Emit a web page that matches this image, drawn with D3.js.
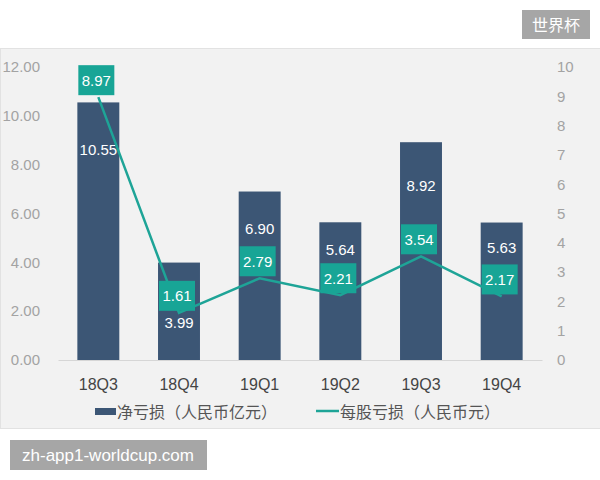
<!DOCTYPE html>
<html>
<head>
<meta charset="utf-8">
<script src="https://cdn.jsdelivr.net/npm/d3@7"></script>
<style>
  html, body { margin: 0; padding: 0; background: #fff; }
  svg text { font-family: "Liberation Sans", Arial, "Noto Sans CJK SC", sans-serif; }
</style>
</head>
<body>
<div class="graph"></div>
<script>
// data
var quarters = ['18Q3', '18Q4', '19Q1', '19Q2', '19Q3', '19Q4'];
var netLoss = [10.55, 3.99, 6.90, 5.64, 8.92, 5.63];      // 净亏损（人民币亿元）
var lossPerShare = [8.97, 1.61, 2.79, 2.21, 3.54, 2.17];  // 每股亏损（人民币元）
var leftTicks = [0, 2, 4, 6, 8, 10, 12];
var rightTicks = [0, 1, 2, 3, 4, 5, 6, 7, 8, 9, 10];

// how far below the bar top each bar label sits (px)
var barLabelDy = [47, 60, 37, 27, 44, 25];

var width = 600,
    height = 480

var barColor = '#3c5675',
    lineColor = '#1ea497',
    boxColor = '#18a596'

var svg = d3.select('.graph')
  .append('svg')
  .attr('width', width)
  .attr('height', height)

// panel
svg.append('rect')
  .attr('x', 0.5)
  .attr('y', 48.5)
  .attr('width', width)
  .attr('height', 380)
  .style('fill', '#f2f2f2')
  .style('stroke', '#e2e2e2')

var xScale = d3.scaleBand()
  .domain(quarters)
  .range([58, 542])
  .paddingInner(0.48)
  .paddingOuter(0.24)

var yLeft = d3.scaleLinear()
  .domain([0, 12])
  .range([360, 67])

var yRight = d3.scaleLinear()
  .domain([0, 10])
  .range([360, 67])

// axes
var leftAxis = svg.append('g')
  .attr('transform', 'translate(40, 0)')
  .call(d3.axisLeft(yLeft).tickValues(leftTicks).tickSize(0).tickPadding(0).tickFormat(d3.format('.2f')))
leftAxis.select('.domain').remove()

var rightAxis = svg.append('g')
  .attr('transform', 'translate(557, 0)')
  .call(d3.axisRight(yRight).tickValues(rightTicks).tickSize(0).tickPadding(0))
rightAxis.select('.domain').remove()

svg.selectAll('g').selectAll('.tick text')
  .style('font-size', '15px')
  .style('fill', '#a3a3a3')

var xAxis = svg.append('g')
  .attr('transform', 'translate(0, 360)')
  .call(d3.axisBottom(xScale).tickSize(0).tickSizeOuter(0).tickPadding(19))
xAxis.select('.domain')
  .style('stroke', '#d6d6d6')
xAxis.selectAll('.tick text')
  .style('font-size', '16px')
  .style('fill', '#444')

// bars
svg.selectAll('rect.bar')
  .data(netLoss)
  .enter()
  .append('rect')
  .attr('class', 'bar')
  .attr('x', (d, i) => xScale(quarters[i]))
  .attr('y', (d) => yLeft(d))
  .attr('width', xScale.bandwidth())
  .attr('height', (d) => yLeft(0) - yLeft(d))
  .style('fill', barColor)

svg.selectAll('text.barlabel')
  .data(netLoss)
  .enter()
  .append('text')
  .attr('class', 'barlabel')
  .attr('x', (d, i) => xScale(quarters[i]) + xScale.bandwidth() / 2)
  .attr('y', (d, i) => yLeft(d) + barLabelDy[i])
  .attr('dy', '0.35em')
  .attr('text-anchor', 'middle')
  .style('font-size', '15px')
  .style('fill', '#fff')
  .text((d) => d3.format('.2f')(d))

// line
var line = d3.line()
  .x((d, i) => xScale(quarters[i]) + xScale.bandwidth() / 2)
  .y((d) => yRight(d))

svg.append('path')
  .datum(lossPerShare)
  .attr('d', line)
  .style('fill', 'none')
  .style('stroke', lineColor)
  .style('stroke-width', 2.5)

// line value boxes
var boxes = svg.selectAll('g.box')
  .data(lossPerShare)
  .enter()
  .append('g')
  .attr('class', 'box')
  .attr('transform', (d, i) => 'translate(' + (xScale(quarters[i]) + xScale.bandwidth() / 2 - 2) + ',' + (yRight(d) - 17) + ')')

boxes.append('rect')
  .attr('x', -18)
  .attr('y', -15)
  .attr('width', 36)
  .attr('height', 30)
  .style('fill', boxColor)

boxes.append('text')
  .attr('text-anchor', 'middle')
  .attr('dy', '0.36em')
  .style('font-size', '15px')
  .style('fill', '#fff')
  .text((d) => d3.format('.2f')(d))

// legend
var legend = svg.append('g')
legend.append('rect')
  .attr('x', 95)
  .attr('y', 408)
  .attr('width', 21)
  .attr('height', 7)
  .style('fill', barColor)
legend.append('text')
  .attr('x', 117)
  .attr('y', 412)
  .attr('dy', '0.36em')
  .style('font-size', '16px')
  .style('fill', '#555')
  .style('font-family', '"Noto Sans CJK SC", sans-serif')
  .text('净亏损（人民币亿元）')

legend.append('line')
  .attr('x1', 316)
  .attr('x2', 339)
  .attr('y1', 411)
  .attr('y2', 411)
  .style('stroke', lineColor)
  .style('stroke-width', 2.5)
legend.append('text')
  .attr('x', 340)
  .attr('y', 412)
  .attr('dy', '0.36em')
  .style('font-size', '16px')
  .style('fill', '#555')
  .style('font-family', '"Noto Sans CJK SC", sans-serif')
  .text('每股亏损（人民币元）')

// tags
svg.append('rect')
  .attr('x', 522)
  .attr('y', 10)
  .attr('width', 68)
  .attr('height', 29)
  .style('fill', '#a6a6a6')
svg.append('text')
  .attr('x', 556)
  .attr('y', 25)
  .attr('dy', '0.36em')
  .attr('text-anchor', 'middle')
  .style('font-size', '16px')
  .style('fill', '#fff')
  .style('font-family', '"Noto Sans CJK SC", sans-serif')
  .text('世界杯')

svg.append('rect')
  .attr('x', 10)
  .attr('y', 440)
  .attr('width', 197)
  .attr('height', 30)
  .style('fill', '#a6a6a6')
svg.append('text')
  .attr('x', 108)
  .attr('y', 455)
  .attr('dy', '0.36em')
  .attr('text-anchor', 'middle')
  .style('font-size', '17px')
  .style('fill', '#fff')
  .text('zh-app1-worldcup.com')
</script>
</body>
</html>
